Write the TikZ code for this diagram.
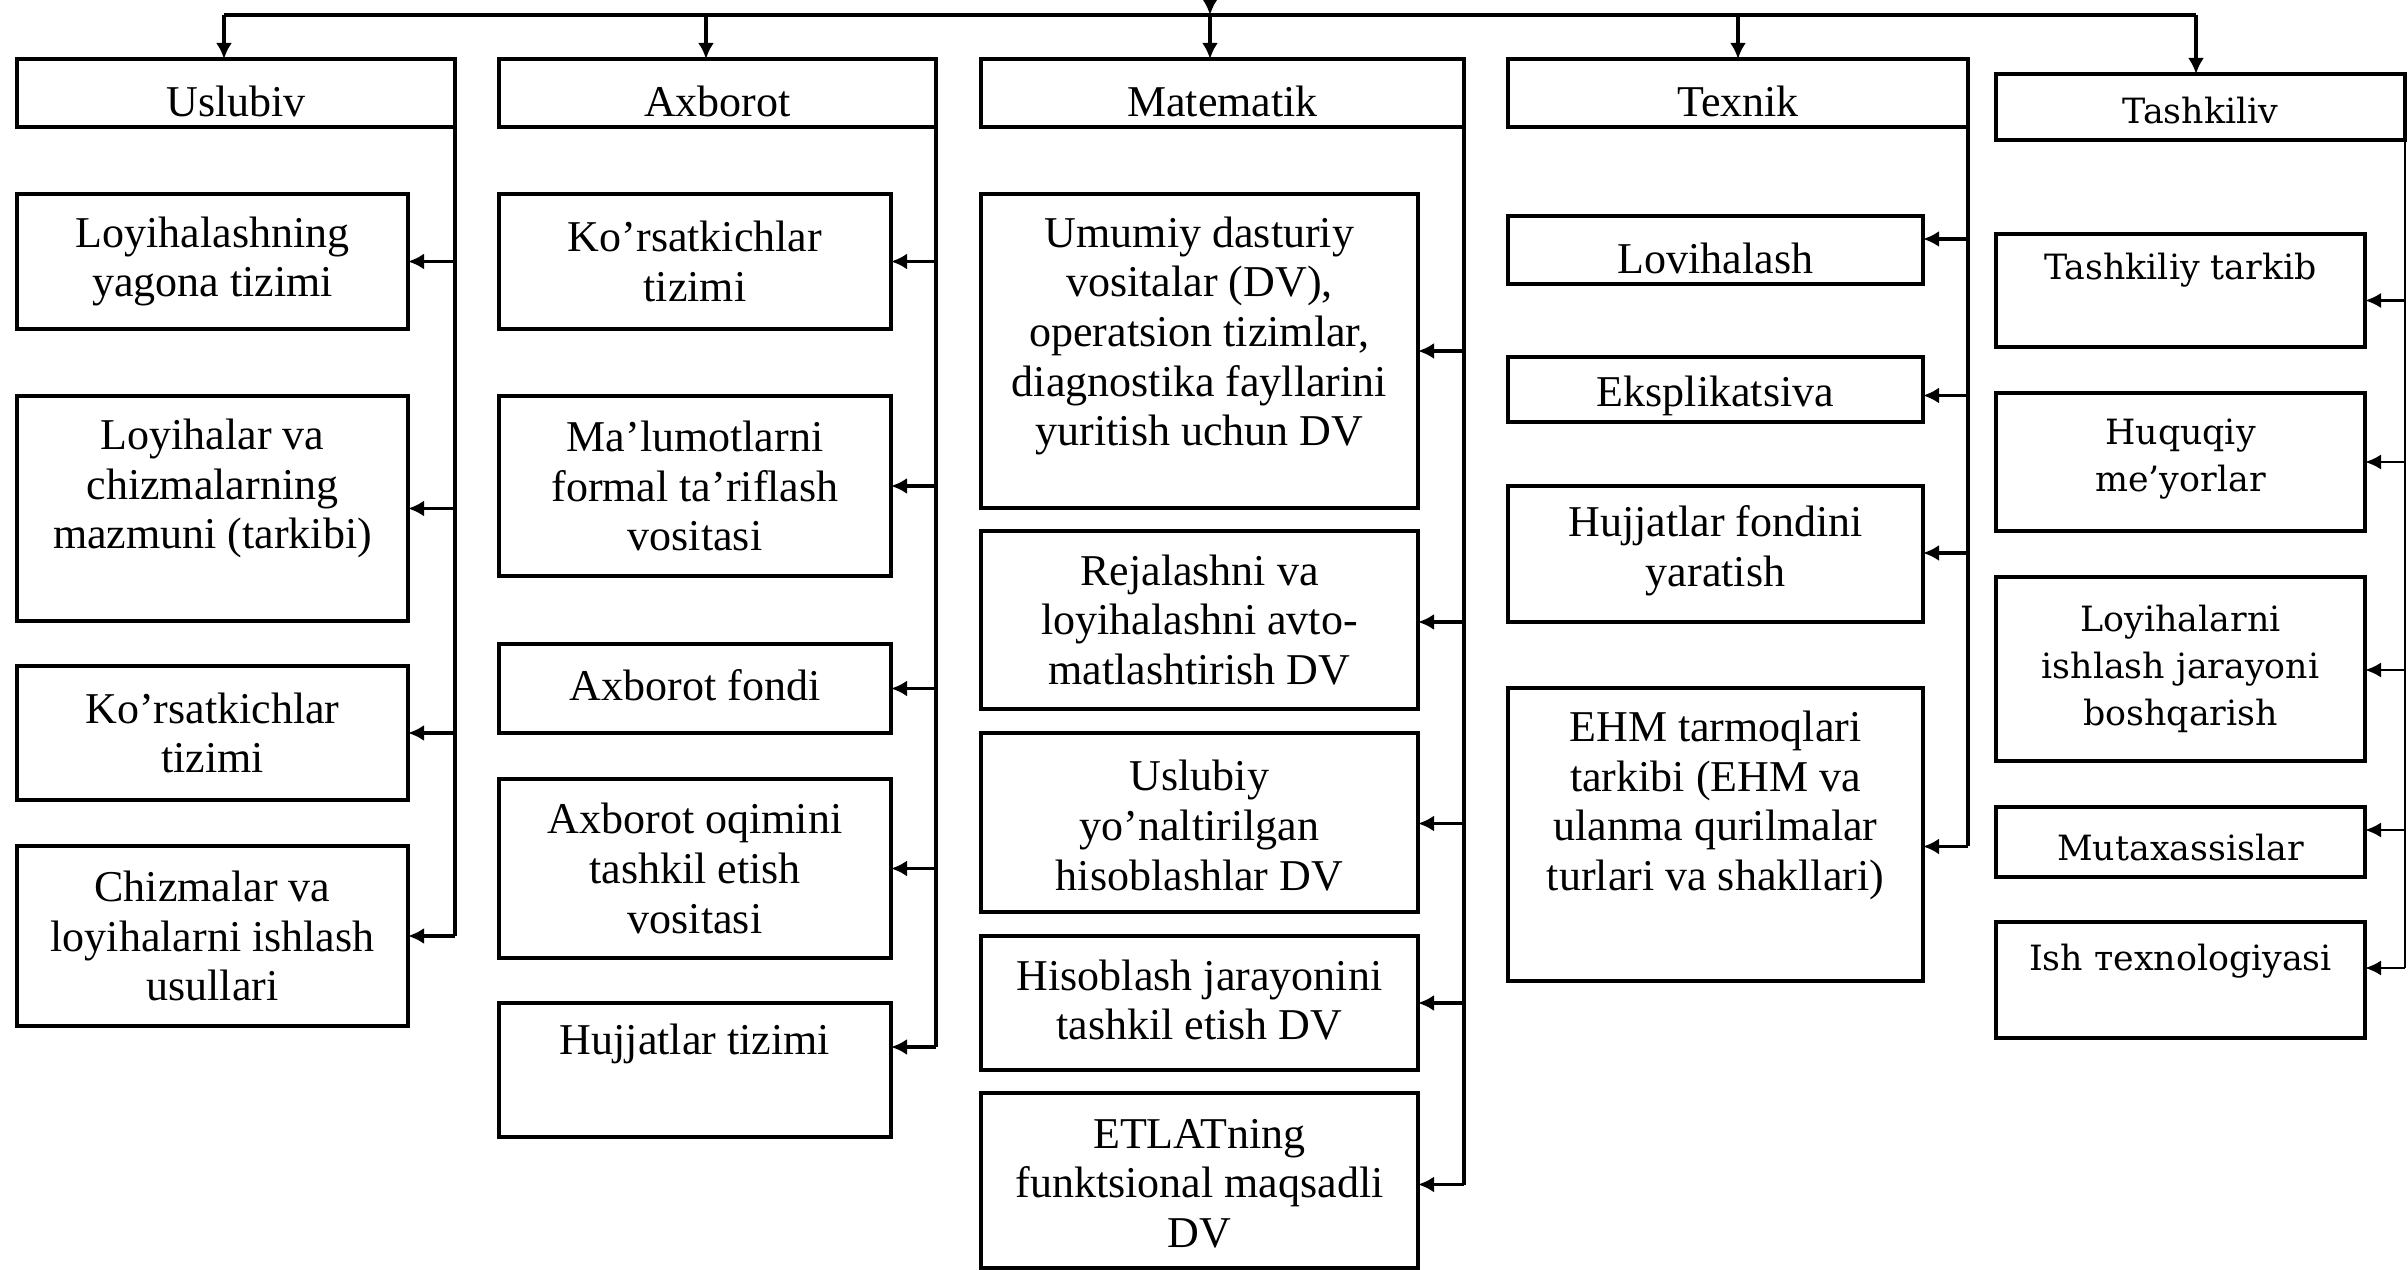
\documentclass[tikz,border=0pt]{standalone}
\usepackage{fontspec}
\setmainfont{Liberation Serif}
\newfontfamily\tfont{DejaVu Serif}
\usetikzlibrary{arrows.meta}
\tikzset{
 box/.style={draw, line width=1.15pt, inner sep=0pt, outer sep=0pt},
 tbox/.style={draw, line width=0.9pt, inner sep=0pt, outer sep=0pt},
 txt/.style={align=center, inner sep=0pt, font=\fontsize{11}{12.4}\selectfont},
 ttxt/.style={align=center, inner sep=0pt, font=\tfont\fontsize{8.7}{11.75}\selectfont},
 conn/.style={line width=0.8pt},
 arr/.style={line width=0.8pt, -{Latex[length=4pt,width=4pt]}},
 tconn/.style={line width=0.7pt},
 tarr/.style={line width=0.7pt, -{Latex[length=4pt,width=3.8pt]}},
}
\newcommand\drbox[9]{%
  \node[#1, minimum width={(#6-#4)*0.25pt}, minimum height={(#7-#5)*0.25pt}] (#3) at ({(#4+#6)/2},{(#5+#7)/2}) {};
  \node[#2] (#3t) at ([yshift={-(#8)*0.25pt}]#3.center) {#9};}
\newcommand\drarr[4]{%
  \coordinate (#3a) at ([yshift={-(#4)*0.25pt}]#3.east);
  \draw[#1] (#2.east |- #3a) -- (#3a);}
\begin{document}
\begin{tikzpicture}[x=0.25pt,y=-0.25pt]
\useasboundingbox (0,0) rectangle (2408,1270);
\fill[white] (0,0) rectangle (2408,1270);
% ---------- headers
\drbox{box}{txt}{hU}{17}{59}{455}{127}{8}{Uslubiv}
\drbox{box}{txt}{hA}{499}{59}{936}{127}{8}{Axborot}
\drbox{box}{txt}{hM}{981}{59}{1464}{127}{8}{Matematik}
\drbox{box}{txt}{hX}{1508}{59}{1968}{127}{8}{Texnik}
\drbox{tbox}{ttxt}{hT}{1996}{74}{2405}{140}{4}{Tashkiliv}
% ---------- Uslubiv
\drbox{box}{txt}{u1}{17}{194}{408}{329}{0}{Loyihalashning\\yagona tizimi}
\drbox{box}{txt}{u2}{17}{396}{408}{621}{-20}{Loyihalar va\\chizmalarning\\mazmuni (tarkibi)}
\drbox{box}{txt}{u3}{17}{666}{408}{800}{0}{Ko’rsatkichlar\\tizimi}
\drbox{box}{txt}{u4}{17}{846}{408}{1026}{0}{Chizmalar va\\loyihalarni ishlash\\usullari}
% ---------- Axborot
\drbox{box}{txt}{a1}{499}{194}{891}{329}{0}{Ko’rsatkichlar\\tizimi}
\drbox{box}{txt}{a2}{499}{396}{891}{576}{0}{Ma’lumotlarni\\formal ta’riflash\\vositasi}
\drbox{box}{txt}{a3}{499}{644}{891}{733}{-3}{Axborot fondi}
\drbox{box}{txt}{a4}{499}{779}{891}{958}{0}{Axborot oqimini\\tashkil etish\\vositasi}
\drbox{box}{txt}{a5}{499}{1003}{891}{1137}{-26}{Hujjatlar tizimi}
% ---------- Matematik
\drbox{box}{txt}{m1}{981}{194}{1418}{508}{-15}{Umumiy dasturiy\\vositalar (DV),\\operatsion tizimlar,\\diagnostika fayllarini\\yuritish uchun DV}
\drbox{box}{txt}{m2}{981}{531}{1418}{709}{0}{Rejalashni va\\loyihalashni avto-\\matlashtirish DV}
\drbox{box}{txt}{m3}{981}{733}{1418}{912}{3}{Uslubiy\\yo’naltirilgan\\hisoblashlar DV}
\drbox{box}{txt}{m4}{981}{936}{1418}{1070}{-3}{Hisoblash jarayonini\\tashkil etish DV}
\drbox{box}{txt}{m5}{981}{1093}{1418}{1268}{3}{ETLATning\\funktsional maqsadli\\DV}
% ---------- Texnik
\drbox{box}{txt}{t1}{1508}{216}{1923}{284}{8}{Lovihalash}
\drbox{box}{txt}{t2}{1508}{357}{1923}{422}{6}{Eksplikatsiva}
\drbox{box}{txt}{t3}{1508}{486}{1923}{622}{-3}{Hujjatlar fondini\\yaratish}
\drbox{box}{txt}{t4}{1508}{688}{1923}{981}{-29}{EHM tarmoqlari\\tarkibi (EHM va\\ulanma qurilmalar\\turlari va shakllari)}
% ---------- Tashkiliv
\drbox{tbox}{ttxt}{k1}{1996}{234}{2365}{347}{-20}{Tashkiliy tarkib}
\drbox{tbox}{ttxt}{k2}{1996}{393}{2365}{531}{-3}{Huquqiy\\me’yorlar}
\drbox{tbox}{ttxt}{k3}{1996}{577}{2365}{761}{0}{Loyihalarni\\ishlash jarayoni\\boshqarish}
\drbox{tbox}{ttxt}{k4}{1996}{807}{2365}{877}{6}{Mutaxassislar}
\drbox{tbox}{ttxt}{k5}{1996}{922}{2365}{1038}{-19}{Ish тexnologiyasi}
% ---------- side connectors
\drarr{arr}{hU}{u1}{0}
\drarr{arr}{hU}{u2}{0}
\drarr{arr}{hU}{u3}{0}
\drarr{arr}{hU}{u4}{0}
\draw[conn] (hU.south east) -- (hU.south east |- u4a);
\drarr{arr}{hA}{a1}{0}
\drarr{arr}{hA}{a2}{0}
\drarr{arr}{hA}{a3}{0}
\drarr{arr}{hA}{a4}{0}
\drarr{arr}{hA}{a5}{-23}
\draw[conn] (hA.south east) -- (hA.south east |- a5a);
\drarr{arr}{hM}{m1}{0}
\drarr{arr}{hM}{m2}{2}
\drarr{arr}{hM}{m3}{1}
\drarr{arr}{hM}{m4}{0}
\drarr{arr}{hM}{m5}{4}
\draw[conn] (hM.south east) -- (hM.south east |- m5a);
\drarr{arr}{hX}{t1}{-11}
\drarr{arr}{hX}{t2}{6}
\drarr{arr}{hX}{t3}{-1}
\drarr{arr}{hX}{t4}{12}
\draw[conn] (hX.south east) -- (hX.south east |- t4a);
\drarr{tarr}{hT}{k1}{10}
\drarr{tarr}{hT}{k2}{0}
\drarr{tarr}{hT}{k3}{1}
\drarr{tarr}{hT}{k4}{-12}
\drarr{tarr}{hT}{k5}{-12}
\draw[tconn] (hT.south east) -- (hT.south east |- k5a);
% ---------- top bus
\coordinate (src) at (1210,-14);
\coordinate (busL) at (224,15);
\coordinate (busA) at (706,15);
\coordinate (busM) at (1210,15);
\coordinate (busX) at (1738,15);
\coordinate (busR) at (2196,15);
\draw[line width=1pt] (busL) -- (busR);
\draw[arr] (src) -- (busM);
\draw[arr] (busL) -- (busL |- hU.north);
\draw[arr] (busA) -- (busA |- hA.north);
\draw[arr] (busM) -- (busM |- hM.north);
\draw[arr] (busX) -- (busX |- hX.north);
\draw[arr] (busR) -- (busR |- hT.north);
\end{tikzpicture}
\end{document}
